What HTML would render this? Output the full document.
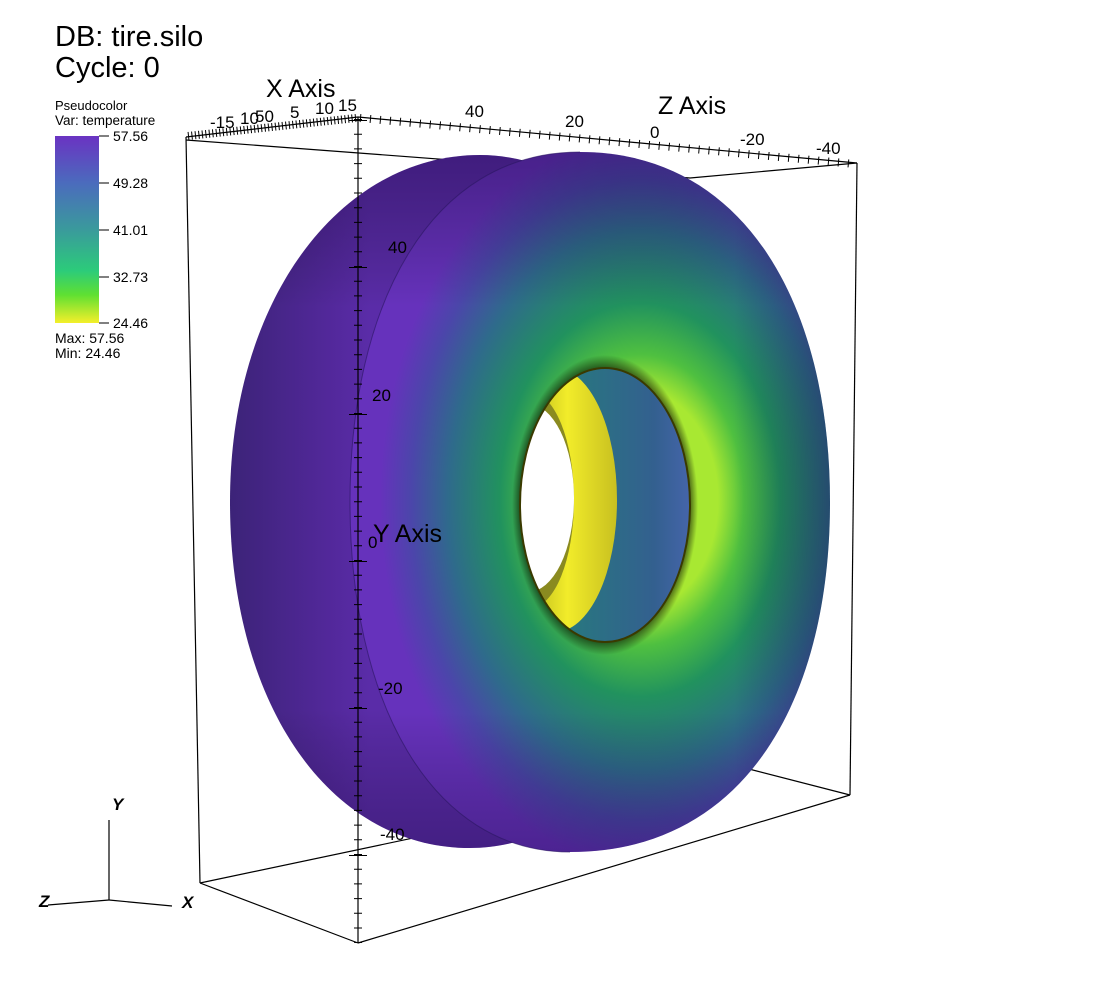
<!DOCTYPE html>
<html><head><meta charset="utf-8"><style>
html,body{margin:0;padding:0;background:#fff;}
svg{display:block;font-family:"Liberation Sans",sans-serif;}
</style></head><body>
<svg width="1100" height="1000" viewBox="0 0 1100 1000" xmlns="http://www.w3.org/2000/svg">
<defs>
<linearGradient id="cbar" x1="0" y1="0" x2="0" y2="1">
<stop offset="0" stop-color="#6a33c2"/><stop offset="0.25" stop-color="#4b6bbd"/>
<stop offset="0.5" stop-color="#3a9a9c"/><stop offset="0.72" stop-color="#2ccb7a"/>
<stop offset="0.85" stop-color="#5fe032"/><stop offset="1" stop-color="#f4ef2a"/>
</linearGradient>
<linearGradient id="back" x1="230" y1="0" x2="370" y2="0" gradientUnits="userSpaceOnUse">
<stop offset="0" stop-color="#3c2378"/><stop offset="0.7" stop-color="#52289a"/><stop offset="1" stop-color="#5a2ca8"/>
</linearGradient>
<radialGradient id="face" cx="640" cy="500" r="260" gradientUnits="userSpaceOnUse" gradientTransform="translate(640 500) scale(1 1.4) translate(-640 -500)">
<stop offset="0.3" stop-color="#a8e832"/><stop offset="0.4" stop-color="#4fc040"/>
<stop offset="0.54" stop-color="#21925e"/><stop offset="0.74" stop-color="#2f6a8c"/>
<stop offset="0.88" stop-color="#4b46aa"/><stop offset="1" stop-color="#6632bc"/>
</radialGradient>
<linearGradient id="shade" x1="0" y1="0" x2="0" y2="1">
<stop offset="0" stop-color="#100030" stop-opacity="0.35"/><stop offset="0.22" stop-color="#000" stop-opacity="0"/>
<stop offset="0.8" stop-color="#000" stop-opacity="0"/><stop offset="1" stop-color="#100030" stop-opacity="0.3"/>
</linearGradient>
<linearGradient id="shadeR" x1="0" y1="0" x2="1" y2="0">
<stop offset="0.8" stop-color="#100030" stop-opacity="0"/><stop offset="1" stop-color="#100030" stop-opacity="0.3"/>
</linearGradient>
<linearGradient id="inner" x1="0" y1="0" x2="1" y2="0">
<stop offset="0" stop-color="#1f8a72"/><stop offset="0.7" stop-color="#33608f"/><stop offset="1" stop-color="#5468c0"/>
</linearGradient>
<linearGradient id="yel" x1="0" y1="0" x2="1" y2="0">
<stop offset="0" stop-color="#8a8a10"/><stop offset="0.6" stop-color="#f2ec2a"/><stop offset="1" stop-color="#c8c020"/>
</linearGradient>
<radialGradient id="rim" cx="605" cy="505" r="150" gradientUnits="userSpaceOnUse" gradientTransform="translate(605 505) scale(0.62 1) translate(-605 -505)">
<stop offset="0.88" stop-color="#000" stop-opacity="0.75"/><stop offset="1" stop-color="#000" stop-opacity="0"/>
</radialGradient>
<clipPath id="hole"><ellipse cx="605" cy="505" rx="85" ry="137"/></clipPath>
</defs>

<g stroke="#000" stroke-width="1.2" fill="none">
<line x1="186" y1="140" x2="690" y2="178"/>
<line x1="690" y1="178" x2="857" y2="163"/>
<line x1="200" y1="883" x2="745" y2="768"/>
<line x1="745" y1="768" x2="850" y2="795"/>
<line x1="186" y1="137" x2="200" y2="883"/>
<line x1="857" y1="163" x2="850" y2="795"/>
</g>

<path d="M480,155 C610,155 710,300 710,502 C710,705 600,848 470,848 C330,848 230,705 230,502 C230,300 340,155 480,155 Z" fill="url(#back)"/>
<path d="M480,155 C610,155 710,300 710,502 C710,705 600,848 470,848 C330,848 230,705 230,502 C230,300 340,155 480,155 Z" fill="url(#shade)"/>
<path d="M580,152 C745,152 830,305 830,502 C830,700 745,852 570,852 C430,852 350,700 350,502 C350,305 430,152 580,152 Z" fill="url(#face)"/>
<path d="M580,152 C745,152 830,305 830,502 C830,700 745,852 570,852 C430,852 350,700 350,502 C350,305 430,152 580,152 Z" fill="url(#shade)"/>
<path d="M580,152 C745,152 830,305 830,502 C830,700 745,852 570,852 C430,852 350,700 350,502 C350,305 430,152 580,152 Z" fill="url(#shadeR)"/>
<path d="M580,152 C430,152 350,305 350,502 C350,700 430,852 570,852" stroke="#2a1560" stroke-width="1" fill="none" opacity="0.6"/>

<ellipse cx="605" cy="505" rx="95" ry="150" fill="url(#rim)"/>
<g clip-path="url(#hole)">
<rect x="500" y="350" width="220" height="310" fill="url(#inner)"/>
<ellipse cx="555" cy="500" rx="62" ry="132" fill="url(#yel)"/>
<ellipse cx="530" cy="500" rx="44" ry="108" fill="#8a8a20"/>
<ellipse cx="528" cy="498" rx="46" ry="94" fill="#fff"/>
</g>
<ellipse cx="605" cy="505" rx="85" ry="137" fill="none" stroke="#3a3a00" stroke-width="2"/>

<g stroke="#000" stroke-width="1.2" fill="none">
<line x1="186" y1="137" x2="358" y2="117"/>
<line x1="358" y1="117" x2="857" y2="163"/>
<line x1="358" y1="117" x2="358" y2="943"/>
<line x1="200" y1="883" x2="358" y2="943"/>
<line x1="358" y1="943" x2="850" y2="795"/>
</g>
<g stroke="#000" fill="none">
<line x1="358" y1="117" x2="358" y2="943" stroke-width="8" stroke-dasharray="1 13.7" stroke-dashoffset="-2"/>
<line x1="358" y1="120" x2="358" y2="943" stroke-width="18" stroke-dasharray="1 146"/>
<line x1="188" y1="136" x2="356" y2="118" stroke-width="8" stroke-dasharray="1 2.5"/>
<line x1="360" y1="118" x2="855" y2="164" stroke-width="8" stroke-dasharray="1 9"/>
</g>

<g font-size="17" fill="#000">
<text x="388" y="253">40</text>
<text x="372" y="401">20</text>
<text x="368" y="548">0</text>
<text x="378" y="694">-20</text>
<text x="380" y="840">-40</text>
<text x="465" y="117">40</text>
<text x="565" y="127">20</text>
<text x="650" y="138">0</text>
<text x="740" y="145">-20</text>
<text x="816" y="154">-40</text>
<text x="210" y="128">-15</text><text x="240" y="124">10</text><text x="255" y="122">50</text>
<text x="290" y="118">5</text><text x="315" y="114">10</text><text x="338" y="111">15</text>
</g>
<text x="266" y="97" font-size="25">X Axis</text>
<text x="658" y="114" font-size="25">Z Axis</text>
<text x="373" y="542" font-size="25">Y Axis</text>

<text x="55" y="46" font-size="29">DB: tire.silo</text>
<text x="55" y="77" font-size="29">Cycle: 0</text>

<text x="55" y="110" font-size="13">Pseudocolor</text>
<text x="55" y="125" font-size="13.5">Var: temperature</text>
<rect x="55" y="136" width="44" height="187" fill="url(#cbar)"/>
<g stroke="#000" stroke-width="1">
<line x1="99" y1="136" x2="109" y2="136"/><line x1="99" y1="183" x2="109" y2="183"/>
<line x1="99" y1="230" x2="109" y2="230"/><line x1="99" y1="277" x2="109" y2="277"/>
<line x1="99" y1="323" x2="109" y2="323"/>
</g>
<g font-size="14">
<text x="113" y="141">57.56</text><text x="113" y="188">49.28</text>
<text x="113" y="235">41.01</text><text x="113" y="282">32.73</text>
<text x="113" y="328">24.46</text>
<text x="55" y="343">Max:  57.56</text><text x="55" y="358">Min:  24.46</text>
</g>

<g stroke="#000" stroke-width="1.2">
<line x1="109" y1="900" x2="109" y2="820"/>
<line x1="109" y1="900" x2="48" y2="905"/>
<line x1="109" y1="900" x2="172" y2="906"/>
</g>
<g font-size="17" font-weight="bold" font-style="italic">
<text x="112" y="810">Y</text>
<text x="39" y="907">Z</text>
<text x="182" y="908">X</text>
</g>
</svg>
</body></html>
